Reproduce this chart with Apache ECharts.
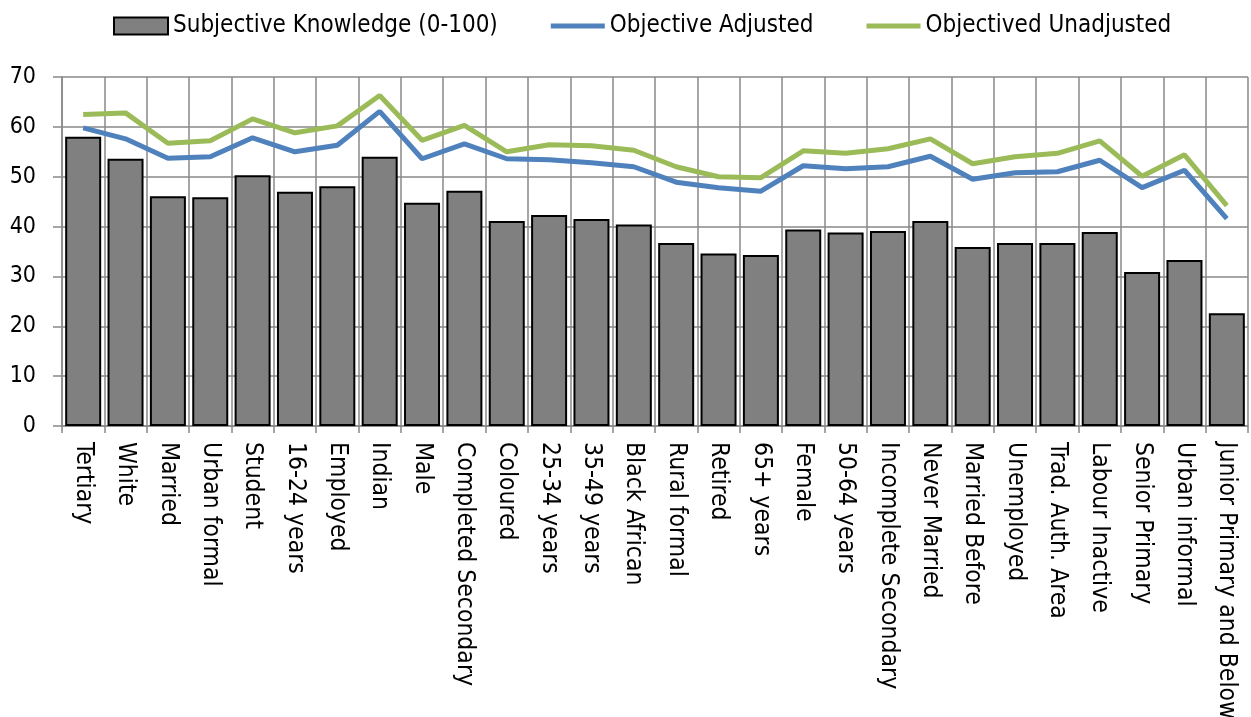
<!DOCTYPE html>
<html>
<head>
<meta charset="utf-8">
<script src="https://cdn.jsdelivr.net/npm/echarts@6/dist/echarts.min.js"></script>
<style>
html,body{margin:0;padding:0;background:#fff;overflow:hidden;}
#chart{width:1251px;height:717px;}
</style>
</head>
<body>
<div id="chart"></div>
<script>
const categories = ["Tertiary","White","Married","Urban formal","Student","16-24 years","Employed","Indian","Male","Completed Secondary","Coloured","25-34 years","35-49 years","Black African","Rural formal","Retired","65+ years","Female","50-64 years","Incomplete Secondary","Never Married","Married Before","Unemployed","Trad. Auth. Area","Labour Inactive","Senior Primary","Urban informal","Junior Primary and Below"];
const subjective = [58.0,53.6,46.1,45.9,50.3,47.0,48.1,54.0,44.8,47.2,41.1,42.3,41.5,40.4,36.7,34.6,34.3,39.4,38.8,39.1,41.1,35.9,36.7,36.7,38.9,30.9,33.3,22.6];
const objAdjusted = [59.8,57.6,53.7,54.0,57.8,55.0,56.3,63.1,53.6,56.6,53.6,53.4,52.8,52.0,48.9,47.8,47.1,52.2,51.6,52.0,54.1,49.5,50.8,51.0,53.3,47.8,51.3,41.6];
const objUnadjusted = [62.5,62.8,56.7,57.2,61.6,58.8,60.2,66.3,57.3,60.3,55.0,56.4,56.2,55.3,52.0,50.0,49.8,55.2,54.7,55.6,57.6,52.6,54.0,54.7,57.2,50.1,54.4,44.2];
const yTicks = [0,10,20,30,40,50,60,70];

const FONT = '"Liberation Sans Narrow","DejaVu Sans Condensed","Liberation Sans",sans-serif';
const LINE_ICON = 'path://M0,0 L54,0 L54,5 L0,5 Z';
const chart = echarts.init(document.getElementById('chart'), null, {renderer:'canvas'});
chart.setOption({
  animation:false,
  backgroundColor:'#fff',
  textStyle:{fontFamily:FONT},
  legend:{
    top:14, left:113, padding:0, itemGap:53, itemWidth:54, itemHeight:17,
    textStyle:{fontFamily:FONT,fontSize:24,color:'#000'},
    data:[
      {name:'Subjective Knowledge (0-100)', icon:'rect', itemStyle:{color:'#808080',borderColor:'#000',borderWidth:2}},
      {name:'Objective Adjusted', icon:LINE_ICON, itemStyle:{color:'#4F81BD',borderWidth:0}},
      {name:'Objectived Unadjusted', icon:LINE_ICON, itemStyle:{color:'#9BBB59',borderWidth:0}}
    ]
  },
  grid:{left:62,right:3,top:77,bottom:291,containLabel:false,outerBoundsMode:'none'},
  xAxis:{
    type:'category', data:categories, boundaryGap:true,
    axisLine:{show:true,lineStyle:{color:'#888',width:1.5}},
    axisTick:{show:true,length:7,lineStyle:{color:'#888',width:1.5}},
    splitLine:{show:true,lineStyle:{color:'#888',width:1.5}},
    axisLabel:{interval:0,rotate:-90,margin:16,fontFamily:FONT,fontSize:24.5,color:'#000'}
  },
  yAxis:{
    type:'value', min:0, max:70, interval:10,
    axisLine:{show:true,lineStyle:{color:'#888',width:1.5}},
    axisTick:{show:true,length:9,lineStyle:{color:'#888',width:1.5}},
    splitLine:{show:true,lineStyle:{color:'#888',width:1.5}},
    axisLabel:{margin:26,fontFamily:FONT,fontSize:23,color:'#000',
      formatter:function(v){return yTicks.indexOf(v)>=0?String(v):'';}}
  },
  series:[
    {name:'Subjective Knowledge (0-100)',type:'bar',data:subjective,barCategoryGap:'15%',
     itemStyle:{color:'#808080',borderColor:'#000',borderWidth:2}},
    {name:'Objective Adjusted',type:'line',data:objAdjusted,symbol:'none',
     itemStyle:{color:'#4F81BD'},lineStyle:{color:'#4F81BD',width:5}},
    {name:'Objectived Unadjusted',type:'line',data:objUnadjusted,symbol:'none',
     itemStyle:{color:'#9BBB59'},lineStyle:{color:'#9BBB59',width:5}}
  ]
});
</script>
</body>
</html>
